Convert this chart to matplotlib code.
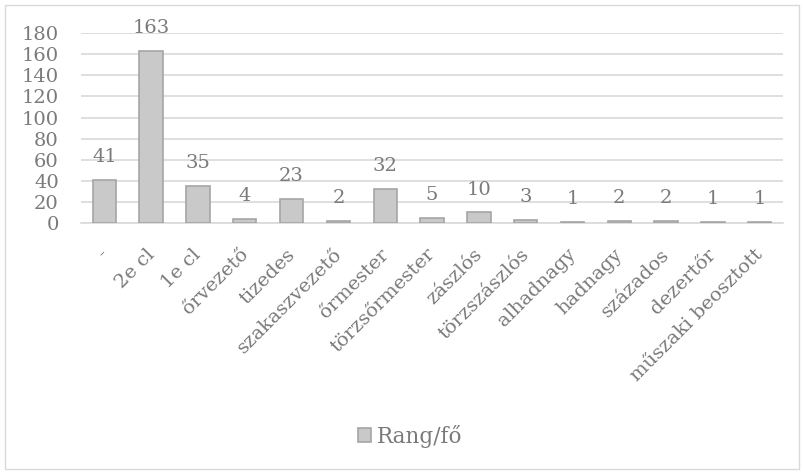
import matplotlib.pyplot as plt
from matplotlib.patches import Rectangle, Patch
from matplotlib.transforms import ScaledTranslation

# Data
ranks = ['-', '2e cl', '1e cl', 'őrvezető', 'tizedes', 'szakaszvezető', 'őrmester',
         'törzsőrmester', 'zászlós', 'törzszászlós', 'alhadnagy', 'hadnagy',
         'százados', 'dezertőr', 'műszaki beosztott']
counts = [41, 163, 35, 4, 23, 2, 32, 5, 10, 3, 1, 2, 2, 1, 1]
yticks = [0, 20, 40, 60, 80, 100, 120, 140, 160, 180]

txt = '#7a7a7a'
plt.rcParams['font.family'] = ['DejaVu Serif']

def main():
    fig = plt.figure(figsize=(8.04, 4.74), dpi=100)
    ax = fig.add_axes([0.1007, 0.5295, 0.8733, 0.4005])

    x = list(range(len(ranks)))
    bars = ax.bar(x, counts, width=0.5, color='#c9c9c9', edgecolor='#a5a5a5',
                  linewidth=1.2, zorder=3)
    for b, v in zip(bars, counts):
        ax.annotate(str(v), (b.get_x() + b.get_width() / 2, v), xytext=(0, 10),
                    textcoords='offset points', ha='center', va='bottom',
                    fontsize=14, color=txt)

    ax.set_xlim(-0.5, len(ranks) - 0.5)
    ax.set_ylim(0, 180)
    ax.set_yticks(yticks)
    ax.set_yticklabels([str(t) for t in yticks], fontsize=14, color=txt)
    ax.yaxis.grid(True, color='#d9d9d9', linewidth=1.2, zorder=0)
    ax.set_axisbelow(True)
    for s in ['top', 'right', 'left']:
        ax.spines[s].set_visible(False)
    ax.spines['bottom'].set_color('#d9d9d9')
    ax.spines['bottom'].set_linewidth(1.2)
    ax.tick_params(axis='y', length=0, pad=16)
    ax.tick_params(axis='x', length=0, pad=16)
    ax.set_xticks(x)
    ax.set_xticklabels(ranks, rotation=45, ha='right', rotation_mode='anchor',
                       fontsize=14, color=txt)
    shift = ScaledTranslation(-0.06, 0, fig.dpi_scale_trans)
    for lab in ax.get_xticklabels():
        lab.set_transform(lab.get_transform() + shift)

    handle = Patch(facecolor='#c9c9c9', edgecolor='#a5a5a5', linewidth=1.2)
    fig.legend([handle], ['Rang/fő'], loc='center', bbox_to_anchor=(0.51, 0.08),
               frameon=False, fontsize=15.5, labelcolor=txt, handlelength=0.6,
               handleheight=0.6, handletextpad=0.3)

    # chart border
    fig.patches.append(Rectangle((0.006, 0.01), 0.988, 0.98, transform=fig.transFigure,
                                 fill=False, edgecolor='#d9d9d9', linewidth=1))

    fig.savefig('out.png', dpi=100)

if __name__ == '__main__':
    main()
